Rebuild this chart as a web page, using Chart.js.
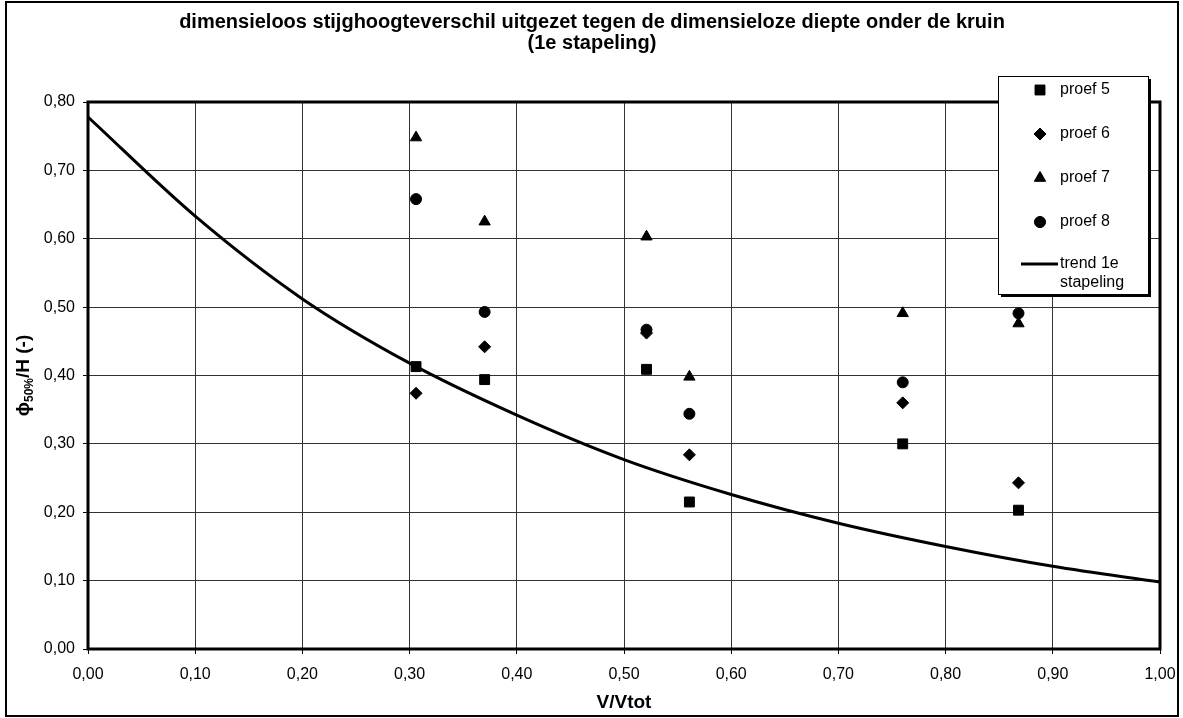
<!DOCTYPE html>
<html>
<head>
<meta charset="utf-8">
<script src="https://cdn.jsdelivr.net/npm/chart.js@4.4.1/dist/chart.umd.min.js"></script>
<style>
  html, body { margin: 0; padding: 0; background: #fff; }
  #wrap { width: 1183px; height: 718px; position: relative; }
</style>
</head>
<body>
<div id="wrap"><canvas id="chart"></canvas></div>
<script>
// measured x positions (V/Vtot) of the test points
const trialX = [0.306, 0.370, 0.521, 0.561, 0.760, 0.868];
const proef5 = [0.413, 0.394, 0.409, 0.215, 0.300, 0.203];
const proef6 = [0.374, 0.442, 0.462, 0.284, 0.360, 0.243];
const proef7 = [0.748, 0.625, 0.603, 0.398, 0.491, 0.476];
const proef8 = [0.658, 0.493, 0.467, 0.344, 0.390, 0.491];

// trend line
const trendX = [0, 0.1, 0.2, 0.3, 0.4, 0.5, 0.6, 0.7, 0.8, 0.9, 1.0];
const trendY = [0.778, 0.633, 0.512, 0.418, 0.342, 0.277, 0.226, 0.184, 0.150, 0.121, 0.098];

const titleLines = ['dimensieloos stijghoogteverschil uitgezet tegen de dimensieloze diepte onder de kruin', '(1e stapeling)'];
const xTitle = 'V/Vtot';
const legendLabels = ['proef 5', 'proef 6', 'proef 7', 'proef 8', ['trend 1e', 'stapeling']];

const FONT = '"Liberation Sans", Arial, sans-serif';
const fmt = v => v.toFixed(2).replace('.', ',');
const pts = ys => trialX.map((x, i) => ({ x: x, y: ys[i] }));

const marker = (label, data, style, r) => ({
    label: label,
    data: pts(data),
    showLine: false,
    pointStyle: style,
    pointRadius: r,
    pointBackgroundColor: '#000',
    pointBorderColor: '#000',
    pointBorderWidth: 1,
    backgroundColor: '#000',
    borderColor: '#000'
});

const decor = {
    id: 'decor',
    beforeDatasetsDraw(chart) {
        const { ctx, chartArea: a } = chart;
        ctx.save();
        ctx.strokeStyle = '#000';
        ctx.lineWidth = 3;
        ctx.strokeRect(a.left, a.top, a.right - a.left, a.bottom - a.top);
        ctx.restore();
    },
    afterDraw(chart) {
        const { ctx, chartArea: a } = chart;
        ctx.save();
        // outer frame
        ctx.strokeStyle = '#000';
        ctx.lineWidth = 2;
        ctx.strokeRect(6, 2, 1172, 714);

        // title
        ctx.fillStyle = '#000';
        ctx.textAlign = 'center';
        ctx.textBaseline = 'middle';
        ctx.font = 'bold 20px ' + FONT;
        ctx.fillText(titleLines[0], 592, 22);
        ctx.fillText(titleLines[1], 592, 43);

        // x axis title
        ctx.font = 'bold 19px ' + FONT;
        ctx.fillText(xTitle, (a.left + a.right) / 2, 703);

        // y axis title with subscript
        ctx.translate(22, (a.top + a.bottom) / 2);
        ctx.rotate(-Math.PI / 2);
        const parts = [['ϕ', 'bold 19px ', 0], ['50%', 'bold 12px ', 4], ['/H (-)', 'bold 19px ', 0]];
        let total = 0;
        parts.forEach(p => { ctx.font = p[1] + FONT; total += ctx.measureText(p[0]).width; });
        let px = -total / 2;
        ctx.textAlign = 'left';
        ctx.textBaseline = 'alphabetic';
        parts.forEach(p => {
            ctx.font = p[1] + FONT;
            ctx.fillText(p[0], px, 7 + p[2]);
            px += ctx.measureText(p[0]).width;
        });
        ctx.restore();

        // legend box with shadow
        ctx.save();
        const L = 998, T = 76, R = 1148, B = 294;
        ctx.fillStyle = '#000';
        ctx.fillRect(L + 3, T + 3, R - L, B - T);
        ctx.fillStyle = '#fff';
        ctx.fillRect(L, T, R - L, B - T);
        ctx.strokeStyle = '#000';
        ctx.lineWidth = 1;
        ctx.strokeRect(L + 0.5, T + 0.5, R - L, B - T);
        const rows = [90, 134, 178, 222, 264];
        ctx.font = '16px ' + FONT;
        ctx.textBaseline = 'middle';
        ctx.textAlign = 'left';
        chart.data.datasets.forEach((ds, i) => {
            const y = rows[i];
            ctx.fillStyle = '#000';
            if (ds.showLine) {
                ctx.strokeStyle = '#000';
                ctx.lineWidth = 3;
                ctx.beginPath();
                ctx.moveTo(1021, y);
                ctx.lineTo(1058, y);
                ctx.stroke();
            } else {
                Chart.helpers.drawPoint(ctx, { pointStyle: ds.pointStyle, radius: ds.pointRadius, borderWidth: 1 }, 1040, y);
                ctx.fill();
            }
            const lab = legendLabels[i];
            if (Array.isArray(lab)) {
                ctx.fillText(lab[0], 1060, y);
                ctx.fillText(lab[1], 1060, y + 19);
            } else {
                ctx.fillText(lab, 1060, y);
            }
        });
        ctx.restore();
    }
};

new Chart(document.getElementById('chart'), {
    type: 'scatter',
    data: {
        datasets: [
            marker('proef 5', proef5, 'rect', 7),
            marker('proef 6', proef6, 'rectRot', 6),
            marker('proef 7', proef7, 'triangle', 6.5),
            marker('proef 8', proef8, 'circle', 5.5),
            {
                label: 'trend 1e stapeling',
                data: trendX.map((x, i) => ({ x: x, y: trendY[i] })),
                showLine: true,
                borderColor: '#000',
                backgroundColor: '#000',
                borderWidth: 3,
                pointRadius: 0,
                cubicInterpolationMode: 'monotone'
            }
        ]
    },
    options: {
        responsive: true,
        maintainAspectRatio: false,
        animation: false,
        layout: { padding: { left: 0, top: 102, right: 23, bottom: 0 } },
        plugins: {
            legend: { display: false },
            tooltip: { enabled: false },
            title: { display: false }
        },
        scales: {
            x: {
                type: 'linear',
                min: 0,
                max: 1,
                afterFit: s => { s.height = 69; s.paddingLeft = 0; s.paddingRight = 0; },
                ticks: {
                    stepSize: 0.1,
                    color: '#000',
                    padding: 11,
                    maxRotation: 0,
                    font: { family: FONT, size: 16 },
                    callback: v => fmt(v)
                },
                grid: { color: '#333', lineWidth: 1, tickLength: 5, tickColor: '#000' },
                border: { display: false }
            },
            y: {
                type: 'linear',
                min: 0,
                max: 0.8,
                afterFit: s => { s.width = 88; s.paddingTop = 0; s.paddingBottom = 0; },
                ticks: {
                    stepSize: 0.1,
                    color: '#000',
                    padding: 8,
                    font: { family: FONT, size: 16 },
                    callback: v => fmt(v)
                },
                grid: { color: '#333', lineWidth: 1, tickLength: 5, tickColor: '#000' },
                border: { display: false }
            }
        }
    },
    plugins: [decor]
});
</script>
</body>
</html>
